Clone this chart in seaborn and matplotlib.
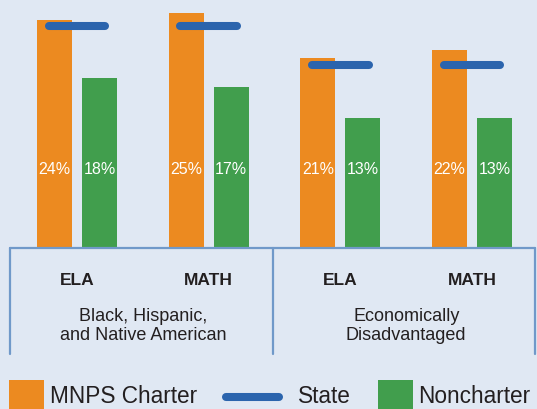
import pandas as pd
import matplotlib
matplotlib.use('Agg')
import matplotlib.pyplot as plt
import seaborn as sns
from matplotlib.lines import Line2D
from matplotlib.patches import Rectangle
from matplotlib.transforms import Affine2D, blended_transform_factory

# === DATA ===
group_lines = [['Black, Hispanic,', 'and Native American'],
               ['Economically', 'Disadvantaged']]
subjects = ['ELA', 'MATH', 'ELA', 'MATH']
charter = [24.3, 25.0, 20.2, 21.1]
noncharter = [18.1, 17.1, 13.8, 13.8]
state = [23.6, 23.6, 19.5, 19.5]
charter_labels = ['24%', '25%', '21%', '22%']
noncharter_labels = ['18%', '17%', '13%', '13%']

ORANGE = '#ec8a20'
GREEN = '#419e4d'
BLUE = '#2b64ad'
FRAME = '#7099c9'
BG = '#e0e8f3'
INK = '#231f20'

W, H, DPI = 537, 409, 100
BASE = 248          # baseline, px from top
PX_PER_PCT = 9.4

sns.set_theme(style='white', rc={'figure.facecolor': BG, 'axes.facecolor': BG,
                                 'savefig.facecolor': BG})
plt.rcParams['font.family'] = ['Liberation Sans', 'DejaVu Sans']

slots = [f'{g}|{s}' for g, s in zip([0, 0, 1, 1], subjects)]
df = pd.DataFrame({
    'slot': slots * 2,
    'school': ['MNPS Charter'] * 4 + ['Noncharter'] * 4,
    'pct': charter + noncharter,
})

fig = plt.figure(figsize=(W / DPI, H / DPI), dpi=DPI)
# pixel coordinates measured from the top-left corner
pix = Affine2D().scale(1 / DPI, -1 / DPI).translate(0, H / DPI) + fig.dpi_scale_trans

ax = fig.add_axes([0, (H - BASE) / H, 1, BASE / H])
sns.barplot(data=df, x='slot', y='pct', hue='school', palette=[ORANGE, GREEN],
            saturation=1, width=0.683, gap=0.22, errorbar=None, legend=False,
            linewidth=0, ax=ax)

# state averages
for i, s in enumerate(state):
    ax.plot([i - 0.215, i + 0.215], [s, s], color=BLUE, lw=5.8,
            solid_capstyle='round', zorder=5)

# value labels inside bars
for cont, labels in zip(ax.containers, [charter_labels, noncharter_labels]):
    for bar, lab in zip(cont, labels):
        ax.text(bar.get_x() + bar.get_width() / 2, (BASE - 173.5) / BASE, lab,
                transform=ax.get_xaxis_transform(), ha='center', va='baseline',
                color='white', fontsize=11.5)

ax.set_xlim(-0.585, 3.493)
ax.set_ylim(0, BASE / PX_PER_PCT)
ax.axis('off')

# === FRAME BELOW BARS ===
fig.add_artist(Line2D([10, 535], [BASE, BASE], transform=pix, color=FRAME, lw=1.6))
for x in [10, 273, 535]:
    fig.add_artist(Line2D([x, x], [BASE, 354], transform=pix, color=FRAME, lw=1.6))

xpix = blended_transform_factory(ax.transData, pix)
for i, s in enumerate(subjects):
    fig.text(i, 285, s, transform=xpix, ha='center', va='baseline',
             fontsize=12.5, fontweight='bold', color=INK)
for g, lines in enumerate(group_lines):
    for y, line in zip([321, 340], lines):
        fig.text(2 * g + 0.5, y, line, transform=xpix, ha='center', va='baseline',
                 fontsize=13, color=INK)

# === LEGEND ===
fig.add_artist(Rectangle((9, 380), 35, 32, transform=pix, color=ORANGE, lw=0))
fig.add_artist(Rectangle((378, 380), 35, 32, transform=pix, color=GREEN, lw=0))
fig.add_artist(Line2D([226, 279], [397, 397], transform=pix, color=BLUE, lw=5.8,
                      solid_capstyle='round'))
for x, lab in [(50, 'MNPS Charter'), (298, 'State'), (418, 'Noncharter')]:
    fig.text(x, 403, lab, transform=pix, ha='left', va='baseline',
             fontsize=16.3, color=INK)

fig.savefig('out.png', dpi=DPI)
